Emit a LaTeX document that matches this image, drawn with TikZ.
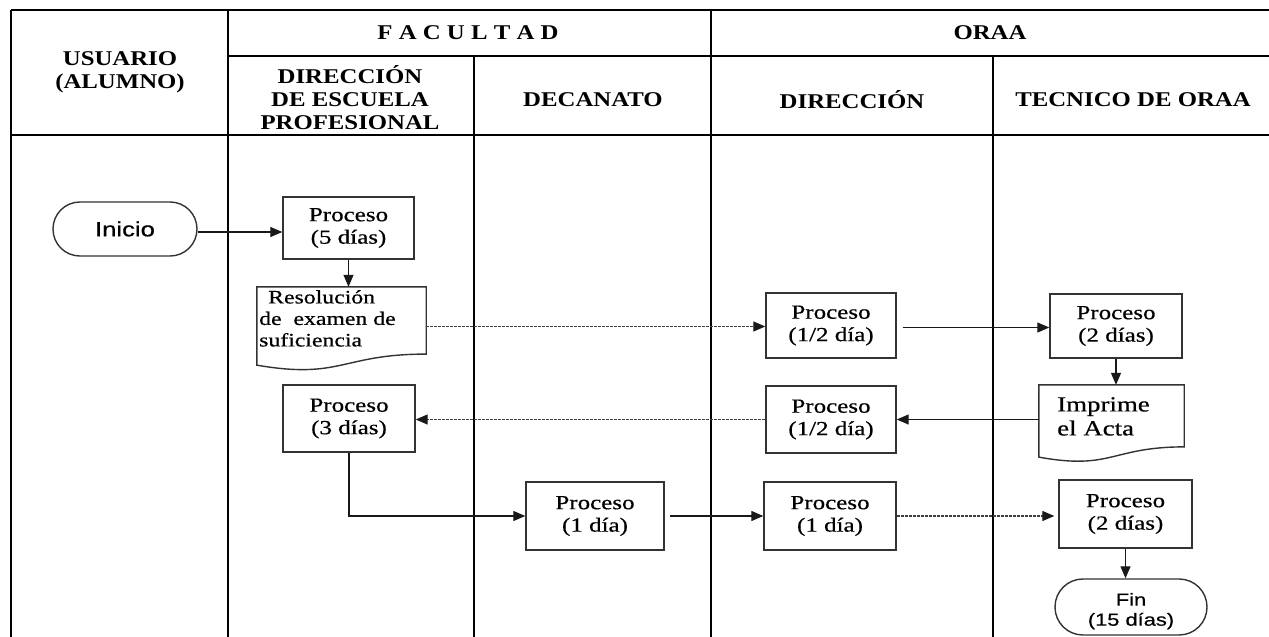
\documentclass[tikz,border=0pt]{standalone}
\usepackage{fontspec}
\setmainfont{Liberation Serif}
\newfontfamily\tnr[FakeStretch=1.25,FakeBold=0.5]{Liberation Serif}
\newfontfamily\tnh[FakeStretch=1.18]{Liberation Serif}
\newfontfamily\ari[FakeStretch=1.25,FakeBold=0.5]{Liberation Sans}
\usetikzlibrary{arrows.meta,calc}
\newcommand\docoutline[1]{%
  \draw[docl] (#1.north west) -- (#1.north east) -- ($(#1.north east)!0.802!(#1.south east)$)
    .. controls ($(#1.north)!0.802!(#1.south)$) and ($(#1.north)!1.107!(#1.south)$) ..
    ($(#1.north west)!0.934!(#1.south west)$) -- cycle;}
\begin{document}
\begin{tikzpicture}[x=1pt,y=-1pt,
  lane/.style={line width=2.8pt, black},
  box/.style={draw=black!80, line width=1.4pt, fill=white, rectangle, inner sep=0pt,
    align=center, text=black, font=\tnr\fontsize{20}{22.5}\selectfont},
  term/.style={draw=black!80, line width=1.4pt, rounded corners=26.9pt, inner sep=0pt,
    align=center, text=black},
  docl/.style={draw=black!80, line width=1.4pt},
  docshape/.style={draw=none, rectangle, inner sep=0pt},
  doctext/.style={inner sep=0pt, align=left, text=black, font=\tnr\fontsize{19}{21.5}\selectfont},
  head/.style={font=\tnh\bfseries\fontsize{21}{23}\selectfont, align=center, text=black},
  flow/.style={line width=1.2pt, black!90, -{Triangle[length=12pt,width=10pt]}},
  dflow/.style={line width=1.2pt, black!75, dash pattern=on 3pt off 1pt,
    -{Triangle[length=12pt,width=10pt,color=black!90]}}
]
\useasboundingbox[fill=white] (0,0) rectangle (1269,637);

% swimlane grid
\draw[lane] (11,10) -- (1269,10);
\draw[lane] (228,56) -- (1269,56);
\draw[lane] (11,135) -- (1269,135);
\draw[lane] (11,10) -- (11,637);
\draw[lane] (228,10) -- (228,637);
\draw[lane] (474,56) -- (474,637);
\draw[lane] (711,10) -- (711,637);
\draw[lane] (993,56) -- (993,637);

% headers
\node[head] (usuario) at (120,72) {USUARIO\\(ALUMNO)};
\node[head] (facultad) at (468,33) {F A C U L T A D};
\node[head] (oraa) at (990,33) {ORAA};
\node[head] (dep) at (350,98) {DIRECCIÓN\\DE ESCUELA\\PROFESIONAL};
\node[head] (dec) at (593,100) {DECANATO};
\node[head] (dir) at (852,100) {DIRECCIÓN};
\node[head] (tec) at (1133,100) {TECNICO DE ORAA};

% terminators
\node[term, minimum width=144pt, minimum height=54pt, font=\ari\fontsize{20.5}{22}\selectfont] (ini) at (125,229) {Inicio};
\node[term, rounded corners=27.9pt, minimum width=152pt, minimum height=56pt, font=\ari\fontsize{17.5}{20}\selectfont] (fin) at (1131,607) {\rule{0pt}{21pt}Fin\\(15 días)};

% process boxes
\node[box, minimum width=131pt, minimum height=62pt] (p5) at (348.5,228) {Proceso\\(5 días)};
\node[box, minimum width=130pt, minimum height=65pt] (pa) at (831,325.5) {Proceso\\(1/2 día)};
\node[box, minimum width=132pt, minimum height=64pt] (p2a) at (1116,326) {Proceso\\(2 días)};
\node[box, minimum width=130pt, minimum height=67pt] (pb) at (831,419.5) {Proceso\\(1/2 día)};
\node[box, minimum width=132pt, minimum height=67pt] (p3) at (349,418.5) {Proceso\\(3 días)};
\node[box, minimum width=138pt, minimum height=68pt] (p1a) at (595,516) {Proceso\\(1 día)};
\node[box, minimum width=132pt, minimum height=68pt] (p1b) at (830,516) {Proceso\\(1 día)};
\node[box, minimum width=133pt, minimum height=68pt] (p2b) at (1125.5,514) {Proceso\\(2 días)};

% documents
\node[docshape, minimum width=169pt, minimum height=83.5pt] (res) at (341.5,328.75) {};
\docoutline{res}
\node[doctext, anchor=north west] (restxt) at (259,290) {\hspace*{9pt}Resolución\\de\ \ examen de\\suficiencia};
\node[docshape, minimum width=145pt, minimum height=77pt] (imp) at (1111.5,423.5) {};
\docoutline{imp}
\node[doctext, anchor=north west, font=\tnr\fontsize{21.5}{24}\selectfont] (imptxt) at (1057,397) {Imprime\\el Acta};

% connectors
\draw[flow] ([yshift=-3pt]ini.east) -- ([yshift=-3pt]ini.east -| p5.west);
\draw[flow] (p5.south) -- (p5.south |- res.north);
\draw[dflow] ([yshift=-1pt]pa.west -| res.east) -- ([yshift=-1pt]pa.west);
\draw[flow, shorten <=6pt] ([yshift=-2pt]pa.east) -- ([yshift=-2pt]pa.east -| p2a.west);
\draw[flow] (p2a.south) -- (p2a.south |- imp.north);
\draw[flow] (imp.west |- pb.east) -- (pb.east);
\draw[dflow] (pb.west) -- (pb.west -| p3.east);
\draw[flow] (p3.south) |- (p1a.west);
\draw[flow, shorten <=5pt] (p1a.east) -- (p1a.east -| p1b.west);
\draw[dflow, shorten >=4pt] (p1b.east) -- (p1b.east -| p2b.west);
\draw[flow] (p2b.south) -- (p2b.south |- fin.north);
\end{tikzpicture}
\end{document}
